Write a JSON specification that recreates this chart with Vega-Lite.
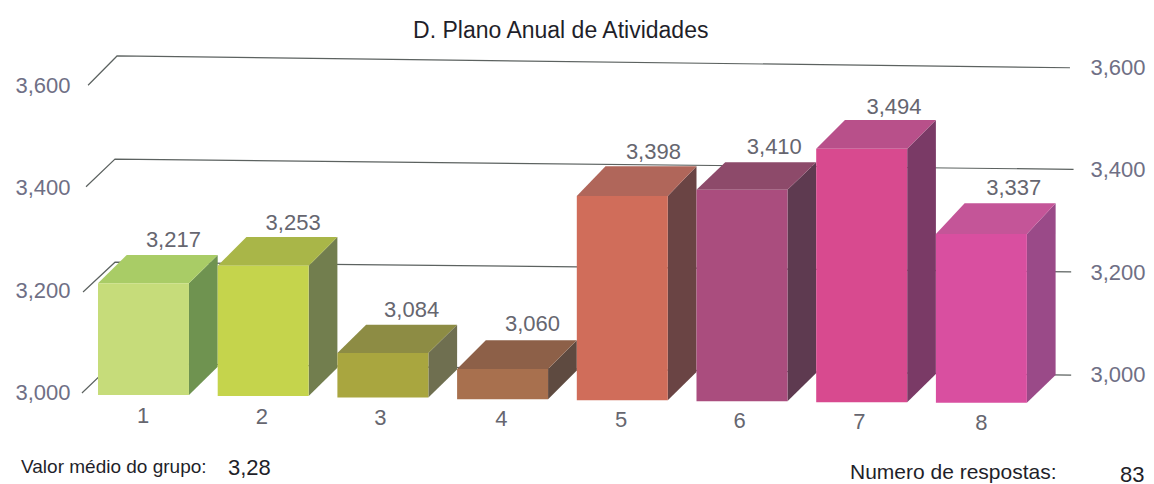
{
"$schema":"https://vega.github.io/schema/vega-lite/v6.json",
"width":1154,"height":484,"padding":0,"autosize":"none",
"background":"white",
"config":{"view":{"stroke":null},"text":{"font":"Liberation Sans"},"axis":{"labelFont":"Liberation Sans"}},
"datasets":{
"ticks":[{"x":1,"v":3.0},{"x":1,"v":3.2},{"x":1,"v":3.4},{"x":1,"v":3.6}],
"grid":[
{"g":"3.6","x":0.917,"y":3.600},{"g":"3.6","x":1.159,"y":3.657},{"g":"3.6","x":9.12,"y":3.634},
{"g":"3.4","x":0.900,"y":3.402},{"g":"3.4","x":1.142,"y":3.456},{"g":"3.4","x":9.15,"y":3.436},
{"g":"3.2","x":0.875,"y":3.197},{"g":"3.2","x":1.142,"y":3.255},{"g":"3.2","x":9.13,"y":3.236},
{"g":"3.0","x":0.866,"y":3.000},{"g":"3.0","x":1.125,"y":3.058},{"g":"3.0","x":9.13,"y":3.035}
],
"bars":[
{"bar":1,"value":3.217,"label":"3,217","x":1,"x2":1.76,"top":3.214,"base":2.996,"lx":1.63,"ly":3.298,"nx":1.376,"ny":2.955},
{"bar":2,"value":3.253,"label":"3,253","x":2,"x2":2.76,"top":3.248,"base":2.994,"lx":2.63,"ly":3.331,"nx":2.37,"ny":2.953},
{"bar":3,"value":3.084,"label":"3,084","x":3,"x2":3.76,"top":3.078,"base":2.991,"lx":3.62,"ly":3.162,"nx":3.36,"ny":2.951},
{"bar":4,"value":3.060,"label":"3,060","x":4,"x2":4.76,"top":3.047,"base":2.988,"lx":4.63,"ly":3.135,"nx":4.37,"ny":2.949},
{"bar":5,"value":3.398,"label":"3,398","x":5,"x2":5.76,"top":3.384,"base":2.986,"lx":5.64,"ly":3.470,"nx":5.37,"ny":2.947},
{"bar":6,"value":3.410,"label":"3,410","x":6,"x2":6.76,"top":3.396,"base":2.984,"lx":6.65,"ly":3.480,"nx":6.36,"ny":2.945},
{"bar":7,"value":3.494,"label":"3,494","x":7,"x2":7.76,"top":3.476,"base":2.982,"lx":7.65,"ly":3.558,"nx":7.36,"ny":2.943},
{"bar":8,"value":3.337,"label":"3,337","x":8,"x2":8.76,"top":3.310,"base":2.981,"lx":8.65,"ly":3.400,"nx":8.38,"ny":2.942}
],
"side":[
{"bar":1,"x":1.76,"y":3.214,"y2":2.996},{"bar":1,"x":2,"y":3.269,"y2":3.051},
{"bar":2,"x":2.76,"y":3.248,"y2":2.994},{"bar":2,"x":3,"y":3.304,"y2":3.049},
{"bar":3,"x":3.76,"y":3.078,"y2":2.991},{"bar":3,"x":4,"y":3.133,"y2":3.046},
{"bar":4,"x":4.76,"y":3.047,"y2":2.988},{"bar":4,"x":5,"y":3.103,"y2":3.044},
{"bar":5,"x":5.76,"y":3.384,"y2":2.986},{"bar":5,"x":6,"y":3.442,"y2":3.041},
{"bar":6,"x":6.76,"y":3.396,"y2":2.984},{"bar":6,"x":7,"y":3.450,"y2":3.039},
{"bar":7,"x":7.76,"y":3.476,"y2":2.982},{"bar":7,"x":8,"y":3.532,"y2":3.037},
{"bar":8,"x":8.76,"y":3.310,"y2":2.981},{"bar":8,"x":9,"y":3.370,"y2":3.035}
],
"topface":[
{"bar":1,"x":1,"y":3.214,"y2":3.214},{"bar":1,"x":1.24,"y":3.269,"y2":3.214},{"bar":1,"x":1.76,"y":3.269,"y2":3.214},{"bar":1,"x":2,"y":3.269,"y2":3.269},
{"bar":2,"x":2,"y":3.248,"y2":3.248},{"bar":2,"x":2.24,"y":3.304,"y2":3.248},{"bar":2,"x":2.76,"y":3.304,"y2":3.248},{"bar":2,"x":3,"y":3.304,"y2":3.304},
{"bar":3,"x":3,"y":3.078,"y2":3.078},{"bar":3,"x":3.24,"y":3.133,"y2":3.078},{"bar":3,"x":3.76,"y":3.133,"y2":3.078},{"bar":3,"x":4,"y":3.133,"y2":3.133},
{"bar":4,"x":4,"y":3.047,"y2":3.047},{"bar":4,"x":4.24,"y":3.103,"y2":3.047},{"bar":4,"x":4.76,"y":3.103,"y2":3.047},{"bar":4,"x":5,"y":3.103,"y2":3.103},
{"bar":5,"x":5,"y":3.384,"y2":3.384},{"bar":5,"x":5.24,"y":3.442,"y2":3.384},{"bar":5,"x":5.76,"y":3.442,"y2":3.384},{"bar":5,"x":6,"y":3.442,"y2":3.442},
{"bar":6,"x":6,"y":3.396,"y2":3.396},{"bar":6,"x":6.24,"y":3.450,"y2":3.396},{"bar":6,"x":6.76,"y":3.450,"y2":3.396},{"bar":6,"x":7,"y":3.450,"y2":3.450},
{"bar":7,"x":7,"y":3.476,"y2":3.476},{"bar":7,"x":7.24,"y":3.532,"y2":3.476},{"bar":7,"x":7.76,"y":3.532,"y2":3.476},{"bar":7,"x":8,"y":3.532,"y2":3.532},
{"bar":8,"x":8,"y":3.310,"y2":3.310},{"bar":8,"x":8.24,"y":3.370,"y2":3.310},{"bar":8,"x":8.76,"y":3.370,"y2":3.310},{"bar":8,"x":9,"y":3.370,"y2":3.370}
],
"notes":[
{"text":"D. Plano Anual de Atividades","x":3.632,"y":3.706,"kind":"title"},
{"text":"Valor médio do grupo:","x":0.357,"y":2.856,"kind":"left"},
{"text":"3,28","x":2.086,"y":2.854,"kind":"value"},
{"text":"Numero de respostas:","x":7.282,"y":2.844,"kind":"right"},
{"text":"83","x":9.538,"y":2.840,"kind":"value"}
]
},
"encoding":{"x":{"field":"x","type":"quantitative","axis":null,"scale":{"domain":[0.1813,9.822],"nice":false,"zero":false}}},
"layer":[
{"data":{"name":"ticks"},"mark":{"type":"point","opacity":0},
 "encoding":{"y":{"field":"v","type":"quantitative","scale":{"domain":[2.8226,3.7661],"nice":false,"zero":false},
 "axis":{"orient":"left","title":null,"values":[3,3.2,3.4,3.6],"domain":false,"ticks":false,"grid":false,"labelPadding":-70,"labelFontSize":22,"labelColor":"#6f6f85","labelExpr":"replace(format(datum.value,'.3f'),'.',',')"}}}},
{"data":{"name":"ticks"},"mark":{"type":"point","opacity":0},
 "encoding":{"y":{"field":"v","type":"quantitative","scale":{"domain":[2.7875,3.731],"nice":false,"zero":false},
 "axis":{"orient":"right","title":null,"values":[3,3.2,3.4,3.6],"domain":false,"ticks":false,"grid":false,"labelPadding":-64,"labelFontSize":22,"labelColor":"#6f6f85","labelExpr":"replace(format(datum.value,'.3f'),'.',',')"}}}},
{"data":{"name":"grid"},"mark":{"type":"line","stroke":"#5c6260","strokeWidth":1.2},
 "encoding":{"y":{"field":"y","type":"quantitative","axis":null,"scale":{"domain":[2.8226,3.7661],"nice":false,"zero":false}},"detail":{"field":"g"}}},
{"data":{"name":"side"},"mark":{"type":"area","opacity":1},
 "encoding":{"y":{"field":"y","type":"quantitative","axis":null,"scale":{"domain":[2.8226,3.7661],"nice":false,"zero":false}},"y2":{"field":"y2"},
 "color":{"field":"bar","type":"nominal","legend":null,"scale":{"domain":[1,2,3,4,5,6,7,8],"range":["#6f9350","#727e4e","#6f6f50","#5e4a40","#6a4444","#5e3a50","#7a3a66","#9a4a88"]}}}},
{"data":{"name":"topface"},"mark":{"type":"area","opacity":1},
 "encoding":{"y":{"field":"y","type":"quantitative","axis":null,"scale":{"domain":[2.8226,3.7661],"nice":false,"zero":false}},"y2":{"field":"y2"},
 "color":{"field":"bar","type":"nominal","legend":null,"scale":{"domain":[1,2,3,4,5,6,7,8],"range":["#a9cc66","#a9b648","#8d8c44","#8d6048","#b0665a","#8d4a6a","#b8508a","#c45598"]}}}},
{"data":{"name":"bars"},"mark":{"type":"rect"},
 "encoding":{"x2":{"field":"x2"},"y":{"field":"top","type":"quantitative","axis":null,"scale":{"domain":[2.8226,3.7661],"nice":false,"zero":false}},"y2":{"field":"base"},
 "color":{"field":"bar","type":"nominal","legend":null,"scale":{"domain":[1,2,3,4,5,6,7,8],"range":["#c6dc7a","#c5d44c","#a9a63f","#a8704e","#d06d5a","#aa4d7e","#d84a8f","#d94fa0"]}}}},
{"data":{"name":"bars"},"mark":{"type":"text","fontSize":22,"fill":"#66666f","align":"center","baseline":"middle"},
 "encoding":{"x":{"field":"lx","type":"quantitative"},"y":{"field":"ly","type":"quantitative","axis":null,"scale":{"domain":[2.8226,3.7661],"nice":false,"zero":false}},"text":{"field":"label"}}},
{"data":{"name":"bars"},"mark":{"type":"text","fontSize":22,"fill":"#66666f","align":"center","baseline":"middle"},
 "encoding":{"x":{"field":"nx","type":"quantitative"},"y":{"field":"ny","type":"quantitative","axis":null,"scale":{"domain":[2.8226,3.7661],"nice":false,"zero":false}},"text":{"field":"bar"}}},
{"data":{"name":"notes"},"transform":[{"filter":"datum.kind==='title'"}],"mark":{"type":"text","fontSize":23,"fill":"#1f1f2a","align":"left","baseline":"middle"},
 "encoding":{"y":{"field":"y","type":"quantitative","axis":null,"scale":{"domain":[2.8226,3.7661],"nice":false,"zero":false}},"text":{"field":"text"}}},
{"data":{"name":"notes"},"transform":[{"filter":"datum.kind==='left'"}],"mark":{"type":"text","fontSize":19,"fill":"#1f1f2a","align":"left","baseline":"middle"},
 "encoding":{"y":{"field":"y","type":"quantitative","axis":null,"scale":{"domain":[2.8226,3.7661],"nice":false,"zero":false}},"text":{"field":"text"}}},
{"data":{"name":"notes"},"transform":[{"filter":"datum.kind==='value'"}],"mark":{"type":"text","fontSize":22,"fill":"#1f1f2a","align":"left","baseline":"middle"},
 "encoding":{"y":{"field":"y","type":"quantitative","axis":null,"scale":{"domain":[2.8226,3.7661],"nice":false,"zero":false}},"text":{"field":"text"}}},
{"data":{"name":"notes"},"transform":[{"filter":"datum.kind==='right'"}],"mark":{"type":"text","fontSize":21,"fill":"#1f1f2a","align":"left","baseline":"middle"},
 "encoding":{"y":{"field":"y","type":"quantitative","axis":null,"scale":{"domain":[2.8226,3.7661],"nice":false,"zero":false}},"text":{"field":"text"}}}
],
"resolve":{"scale":{"y":"independent","color":"independent"}}
}
